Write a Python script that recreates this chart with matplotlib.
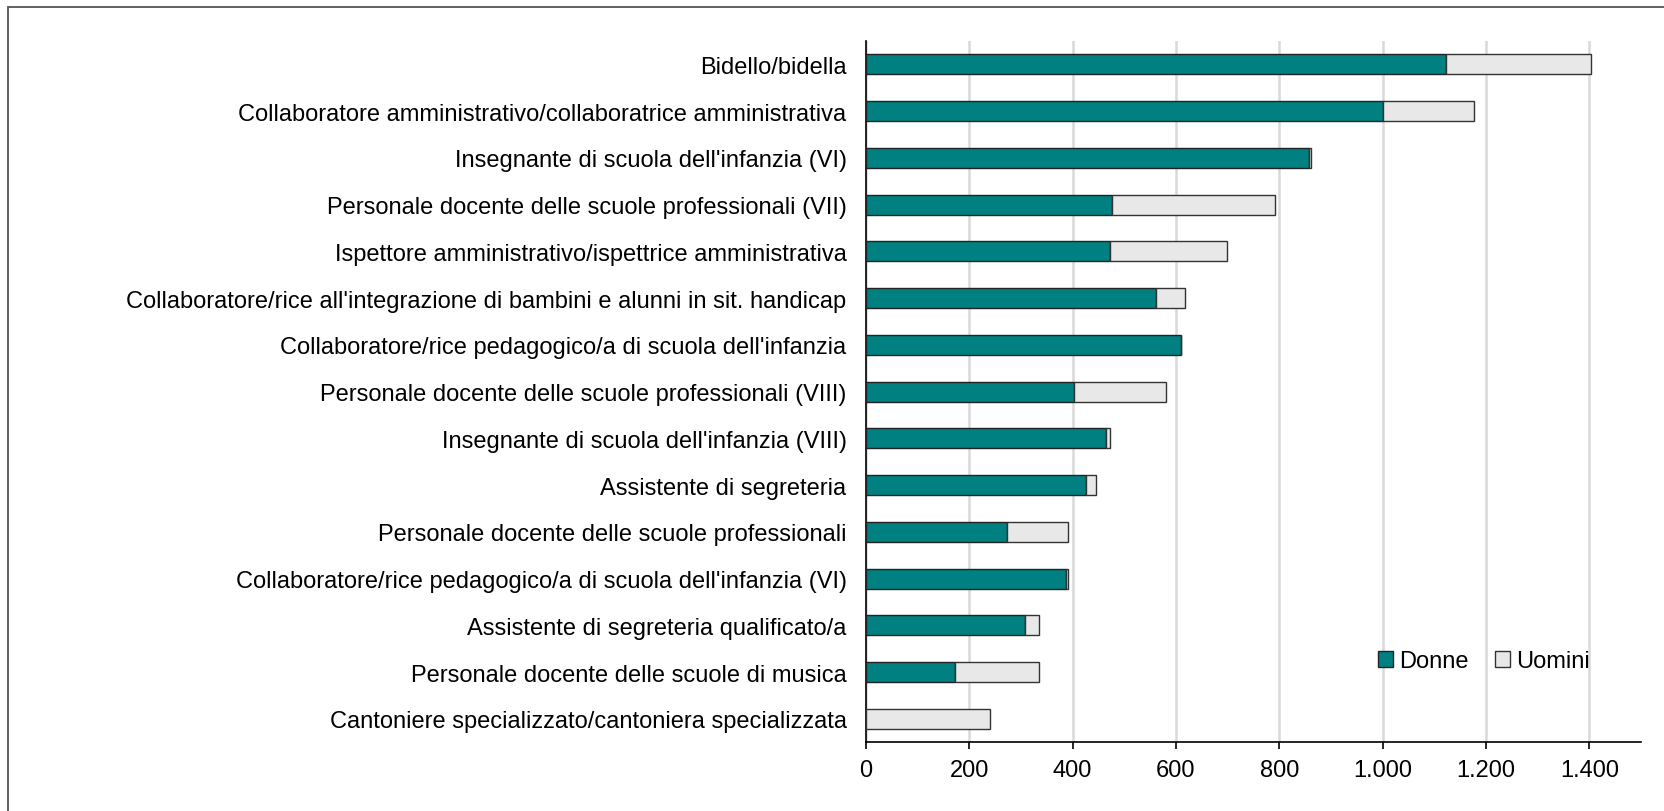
import matplotlib.pyplot as plt
import numpy as np
from matplotlib.patches import Rectangle
from matplotlib.ticker import FuncFormatter

plt.rcParams['font.family'] = ['Liberation Sans', 'DejaVu Sans']

# Profili professionali, dall'alto verso il basso
profili = [
    "Bidello/bidella",
    "Collaboratore amministrativo/collaboratrice amministrativa",
    "Insegnante di scuola dell'infanzia (VI)",
    "Personale docente delle scuole professionali (VII)",
    "Ispettore amministrativo/ispettrice amministrativa",
    "Collaboratore/rice all'integrazione di bambini e alunni in sit. handicap",
    "Collaboratore/rice pedagogico/a di scuola dell'infanzia",
    "Personale docente delle scuole professionali (VIII)",
    "Insegnante di scuola dell'infanzia (VIII)",
    "Assistente di segreteria",
    "Personale docente delle scuole professionali",
    "Collaboratore/rice pedagogico/a di scuola dell'infanzia (VI)",
    "Assistente di segreteria qualificato/a",
    "Personale docente delle scuole di musica",
    "Cantoniere specializzato/cantoniera specializzata",
]
donne = [1123, 1000, 858, 476, 472, 561, 609, 403, 465, 426, 272, 388, 307, 172, 0]
uomini = [281, 177, 4, 316, 227, 57, 1, 177, 7, 19, 119, 3, 27, 162, 240]
x_ticks = [0, 200, 400, 600, 800, 1000, 1200, 1400]

W, H = 1665, 812
fs = 17

fig = plt.figure(figsize=(W / 100, H / 100), dpi=100)
ax = fig.add_axes([866 / W, 1 - 743.3 / H, (1641 - 866) / W, (743.3 - 42) / H])

y = np.arange(len(profili))
alt = 0.43
ax.barh(y, donne, height=alt, color='#008080', edgecolor='#222222', linewidth=1, label='Donne', zorder=3)
ax.barh(y, uomini, left=donne, height=alt, color='#e8e8e8', edgecolor='#333333', linewidth=1,
        label='Uomini', zorder=3)

ax.set_ylim(len(profili) - 0.5, -0.5)
ax.set_xlim(0, 1500)
ax.set_yticks(y)
ax.set_yticklabels(profili, fontsize=fs)
ax.set_xticks(x_ticks)
ax.xaxis.set_major_formatter(FuncFormatter(lambda v, p: f"{int(v):,}".replace(',', '.')))
ax.tick_params(axis='x', labelsize=fs, length=5, width=1.2, pad=7, direction='out')
ax.tick_params(axis='y', length=0, pad=14)

ax.grid(axis='x', color='#d9d9d9', linewidth=1.8, zorder=0)
ax.set_axisbelow(True)
for s in ['top', 'right']:
    ax.spines[s].set_visible(False)
for s in ['left', 'bottom']:
    ax.spines[s].set_linewidth(1.2)
    ax.spines[s].set_color('#000000')

leg = ax.legend(loc='center', bbox_to_anchor=(1484 / W, 1 - 662 / H),
                bbox_transform=fig.transFigure, ncol=2, frameon=False, fontsize=fs,
                handlelength=0.65, handleheight=0.65, handletextpad=0.25, columnspacing=1.1)

# cornice esterna (lati destro e inferiore fuori dall'immagine)
fig.patches.append(Rectangle((7.7 / W, -0.05), 1.1, 1.05 - 8.3 / H,
                             transform=fig.transFigure, fill=False, edgecolor='#555555',
                             linewidth=1.3))

fig.savefig('out.png', dpi=100)
